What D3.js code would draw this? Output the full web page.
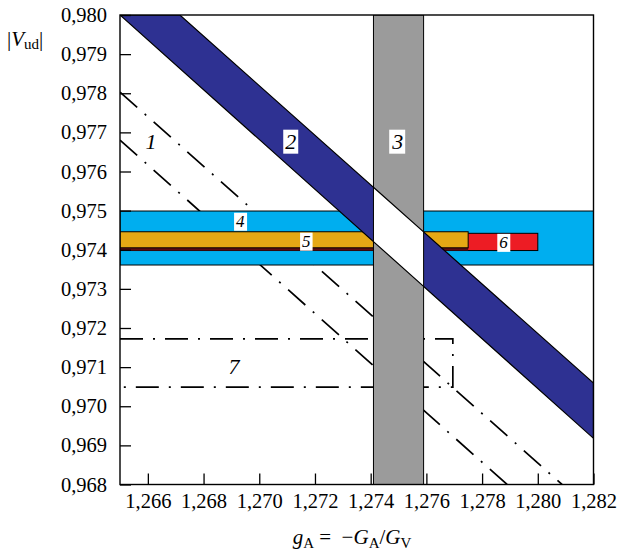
<!DOCTYPE html>
<html>
<head>
<meta charset="utf-8">
<script src="https://cdn.jsdelivr.net/npm/d3@7"></script>
<style>
  body { margin: 0; background: #fff; }
  svg { display: block; font-family: "Liberation Serif", "DejaVu Serif", serif; }
</style>
</head>
<body>
<div id="chart"></div>
<script>
// axis ticks
const xTicks = [1.266, 1.268, 1.270, 1.272, 1.274, 1.276, 1.278, 1.280, 1.282];
const yTicks = [0.968, 0.969, 0.970, 0.971, 0.972, 0.973, 0.974, 0.975, 0.976, 0.977, 0.978, 0.979, 0.980];
const xDomain = [1.265, 1.282];
const yDomain = [0.968, 0.980];

// 1: two dash-dot lines [gA, Vud]
const line1Upper = [[1.265, 0.97803], [1.28087, 0.968]];
const line1Lower = [[1.265, 0.97680], [1.27890, 0.968]];
// 2: dark blue band (polygon)
const band2 = [[1.265, 0.980], [1.26715, 0.980], [1.282, 0.97059], [1.282, 0.96918]];
// 3: gray band in gA
const band3 = [1.2741, 1.2759];
// 4: light blue band in Vud
const band4 = [0.97361, 0.97499];
// 5: orange box [gA from, gA to, Vud from, Vud to]
const box5 = [1.265, 1.2775, 0.97405, 0.97446];
// 6: red box
const box6 = [1.265, 1.2800, 0.97398, 0.97442];
// 7: dash-dot bracket
const bracket7 = [[1.265, 0.97172], [1.27695, 0.97172], [1.27695, 0.97049], [1.265, 0.97049]];

// labels
const labelText = ["1", "2", "3", "4", "5", "6", "7"];
const labelX = [1.26611, 1.27113, 1.27497, 1.26932, 1.27169, 1.27877, 1.26909];
const labelY = [0.97676, 0.97678, 0.97678, 0.97474, 0.97423, 0.97420, 0.97102];
const labelBoxed = [false, true, true, true, true, true, false];
const labelSize = [22, 22, 22, 17, 17, 17, 22];

const width = 619, height = 557;
const margin = { left: 120, right: 25.5, top: 15, bottom: 72.5 };

const svg = d3.select("#chart").append("svg")
    .attr("width", width)
    .attr("height", height);

const x = d3.scaleLinear().domain(xDomain).range([margin.left, width - margin.right]);
const y = d3.scaleLinear().domain(yDomain).range([height - margin.bottom, margin.top]);

const comma = d => d3.format(".3f")(d).replace(".", ",");

svg.append("clipPath").attr("id", "plot-clip")
  .append("rect")
    .attr("x", x(xDomain[0])).attr("y", y(yDomain[1]))
    .attr("width", x(xDomain[1]) - x(xDomain[0]))
    .attr("height", y(yDomain[0]) - y(yDomain[1]));

svg.append("clipPath").attr("id", "gray-clip")
  .append("rect")
    .attr("x", x(band3[0])).attr("y", y(yDomain[1]))
    .attr("width", x(band3[1]) - x(band3[0]))
    .attr("height", y(yDomain[0]) - y(yDomain[1]));

const g = svg.append("g").attr("clip-path", "url(#plot-clip)");
const line = d3.line().x(d => x(d[0])).y(d => y(d[1]));

// dash-dot lines (drawn first, bands hide them)
const dashDot = "23,10,2,10";
g.selectAll("path.dd")
  .data([line1Upper, line1Lower, bracket7])
  .enter().append("path")
    .attr("class", "dd")
    .attr("d", line)
    .attr("fill", "none")
    .attr("stroke", "#000")
    .attr("stroke-width", 1.7)
    .attr("stroke-dasharray", dashDot);

// 4: light blue band
g.append("rect")
    .attr("x", x(xDomain[0])).attr("y", y(band4[1]))
    .attr("width", x(xDomain[1]) - x(xDomain[0]))
    .attr("height", y(band4[0]) - y(band4[1]))
    .attr("fill", "#00aeef")
    .attr("stroke", "#000").attr("stroke-width", 1);

// 6: red box
g.append("rect")
    .attr("x", x(box6[0])).attr("y", y(box6[3]))
    .attr("width", x(box6[1]) - x(box6[0]))
    .attr("height", y(box6[2]) - y(box6[3]))
    .attr("fill", "#ed1c24")
    .attr("stroke", "#000").attr("stroke-width", 1);

// dark strip of the red box showing below the orange one
g.append("rect")
    .attr("x", x(box5[0])).attr("y", y(box5[2]))
    .attr("width", x(box5[1]) - x(box5[0]))
    .attr("height", y(box6[2]) - y(box5[2]))
    .attr("fill", "#5c0d12");

// 5: orange box
g.append("rect")
    .attr("x", x(box5[0])).attr("y", y(box5[3]))
    .attr("width", x(box5[1]) - x(box5[0]))
    .attr("height", y(box5[2]) - y(box5[3]))
    .attr("fill", "#e5a815")
    .attr("stroke", "#000").attr("stroke-width", 1);

// 2: dark blue band
g.append("path")
    .attr("d", line(band2) + "Z")
    .attr("fill", "#2e3192")
    .attr("stroke", "#000").attr("stroke-width", 1.2);

// 3: gray band
g.append("rect")
    .attr("x", x(band3[0])).attr("y", y(yDomain[1]))
    .attr("width", x(band3[1]) - x(band3[0]))
    .attr("height", y(yDomain[0]) - y(yDomain[1]))
    .attr("fill", "#9b9b9b");

// overlap of 2 and 3 is left white
g.append("g").attr("clip-path", "url(#gray-clip)")
  .append("path")
    .attr("d", line(band2) + "Z")
    .attr("fill", "#fff")
    .attr("stroke", "#000").attr("stroke-width", 1.2);

g.append("rect")
    .attr("x", x(band3[0])).attr("y", y(yDomain[1]))
    .attr("width", x(band3[1]) - x(band3[0]))
    .attr("height", y(yDomain[0]) - y(yDomain[1]))
    .attr("fill", "none")
    .attr("stroke", "#000").attr("stroke-width", 1);

// labels
const labels = svg.append("g").selectAll("g")
  .data(labelText.map((t, i) => ({ t, x: labelX[i], y: labelY[i], boxed: labelBoxed[i], size: labelSize[i] })))
  .enter().append("g")
    .attr("transform", d => `translate(${x(d.x)},${y(d.y)})`);

labels.append("text")
    .attr("text-anchor", "middle")
    .attr("dy", "0.35em")
    .attr("font-style", "italic")
    .attr("font-size", d => d.size)
    .text(d => d.t);

labels.each(function(d) {
  if (!d.boxed) return;
  const sel = d3.select(this);
  const bb = sel.select("text").node().getBBox();
  sel.insert("rect", "text")
      .attr("x", bb.x - 2).attr("y", bb.y + 1)
      .attr("width", bb.width + 4).attr("height", bb.height - 1)
      .attr("fill", "#fff");
});

// frame
svg.append("rect")
    .attr("x", x(xDomain[0])).attr("y", y(yDomain[1]))
    .attr("width", x(xDomain[1]) - x(xDomain[0]))
    .attr("height", y(yDomain[0]) - y(yDomain[1]))
    .attr("fill", "none")
    .attr("stroke", "#000").attr("stroke-width", 1.4);

// axes
const xAxis = svg.append("g")
    .attr("transform", `translate(0,${y(yDomain[0])})`)
    .call(d3.axisBottom(x).tickValues(xTicks).tickFormat(comma).tickSize(-11).tickPadding(9));

const yAxis = svg.append("g")
    .attr("transform", `translate(${x(xDomain[0])},0)`)
    .call(d3.axisLeft(y).tickValues(yTicks).tickFormat(comma).tickSize(-11).tickPadding(13));

[xAxis, yAxis].forEach(ax => {
  ax.select(".domain").remove();
  ax.selectAll(".tick line").attr("stroke", "#000").attr("stroke-width", 1.3);
  ax.selectAll(".tick text")
      .attr("fill", "#000")
      .attr("font-family", "Liberation Serif, serif")
      .attr("font-size", 20.5);
});

// axis titles
const yTitle = svg.append("text")
    .attr("x", 7).attr("y", 46)
    .attr("font-size", 21);
yTitle.append("tspan").text("|");
yTitle.append("tspan").attr("font-style", "italic").text("V");
yTitle.append("tspan").attr("font-size", 15).attr("dy", 3).text("ud");
yTitle.append("tspan").attr("dy", -3).text("|");

const xTitle = svg.append("text")
    .attr("x", 352).attr("y", 544)
    .attr("text-anchor", "middle")
    .attr("font-size", 21);
xTitle.append("tspan").attr("font-style", "italic").text("g");
xTitle.append("tspan").attr("font-size", 15).attr("dy", 4).text("A");
xTitle.append("tspan").attr("dy", -4).text(" =\u2002\u2212");
xTitle.append("tspan").attr("font-style", "italic").text("G");
xTitle.append("tspan").attr("font-size", 15).attr("dy", 4).text("A");
xTitle.append("tspan").attr("dy", -4).text("/");
xTitle.append("tspan").attr("font-style", "italic").text("G");
xTitle.append("tspan").attr("font-size", 15).attr("dy", 4).text("V");
</script>
</body>
</html>
